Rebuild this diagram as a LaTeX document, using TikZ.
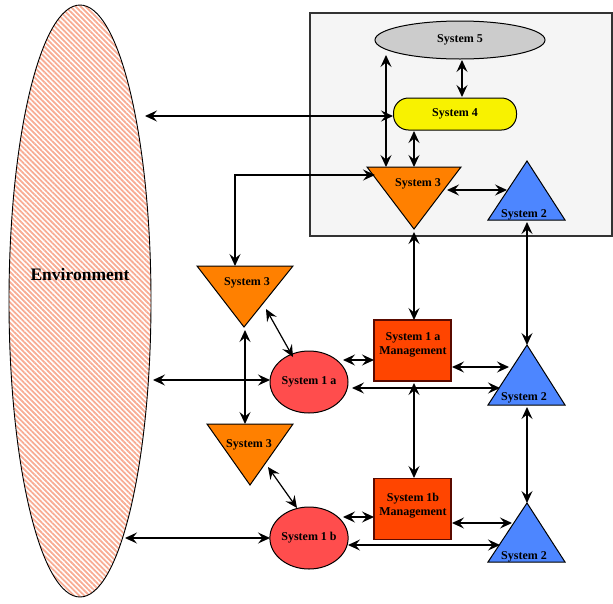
\documentclass[tikz,border=0pt]{standalone}
\usepackage{fontspec}
\setmainfont{Liberation Serif}
\usetikzlibrary{arrows.meta,patterns.meta,shapes.geometric}
\definecolor{envc}{HTML}{F8AC94}
\definecolor{boxc}{HTML}{F5F5F5}
\definecolor{grayc}{HTML}{CCCCCC}
\definecolor{yelc}{HTML}{F8F200}
\definecolor{orc}{HTML}{FF8000}
\definecolor{redc}{HTML}{FF4D4D}
\definecolor{mgc}{HTML}{FF4500}
\definecolor{mgb}{HTML}{5A0A00}
\definecolor{bluc}{HTML}{4D86FF}
\begin{document}
\begin{tikzpicture}[x=1pt,y=-1pt,line width=1.1pt,
  >={Stealth[length=12pt,width=11pt,inset=4.5pt]},
  lbl/.style={font=\bfseries\fontsize{12}{14}\selectfont,inner sep=0pt,align=center},
  conn/.style={<->,line width=1.2pt},
  tri/.style={draw,line width=1pt},
  mgmt/.style={draw=mgb,fill=mgc,line width=1.2pt,minimum width=77pt,minimum height=61pt,inner sep=0pt}]
\useasboundingbox (0,0) rectangle (613,603);
% environment
\node[ellipse,draw,line width=0.9pt,minimum width=142pt,minimum height=592pt,inner sep=0pt,
  pattern={Lines[angle=-45,distance=3.6pt,line width=1.8pt]},pattern color=envc] (env) at (80,301) {};
\node[font=\bfseries\fontsize{17.5}{20}\selectfont] (envt) at (80,275) {Environment};
% grey box
\draw[fill=boxc,draw=black!80,line width=1.2pt] (310,13) rectangle (612,236);
% system 5, 4
\node[ellipse,draw,fill=grayc,line width=1pt,minimum width=170pt,minimum height=38pt,inner sep=0pt,lbl] (s5) at (460,40) {System 5};
\node[draw,fill=yelc,rounded corners=15pt,line width=1pt,minimum width=123pt,minimum height=32pt,inner sep=0pt,lbl] (s4) at (455,114) {System 4};
% triangles
\draw[tri,fill=orc] (367,167) -- (461,167) -- (414,229) -- cycle;
\node[lbl] (s3t) at (418,184) {System 3};
\draw[tri,fill=bluc] (527,161) -- (565,220) -- (488,220) -- cycle;
\node[lbl] (s2t) at (524,215) {System 2};
\draw[tri,fill=orc] (197,266) -- (293,266) -- (244,327) -- cycle;
\node[lbl] (s3m) at (247,283) {System 3};
\draw[tri,fill=orc] (207,424) -- (293,424) -- (250,485) -- cycle;
\node[lbl] (s3l) at (249,445) {System 3};
\draw[tri,fill=bluc] (527,345) -- (565,405) -- (488,405) -- cycle;
\node[lbl] (s2m) at (524,398) {System 2};
\draw[tri,fill=bluc] (527,503) -- (565,562) -- (488,562) -- cycle;
\node[lbl] (s2l) at (524,557) {System 2};
% system 1
\node[ellipse,draw,fill=redc,line width=1pt,minimum width=78pt,minimum height=62pt,inner sep=0pt,lbl] (s1a) at (309,382) {System 1 a};
\node[ellipse,draw,fill=redc,line width=1pt,minimum width=78pt,minimum height=62pt,inner sep=0pt,lbl] (s1b) at (309,538) {System 1 b};
\node[mgmt] (m1a) at (412.5,350.5) {};
\node[lbl] (m1at) at (413,345) {System 1 a\\Management};
\node[mgmt] (m1b) at (412.5,509) {};
\node[lbl] (m1bt) at (413,506) {System 1b\\Management};
% connector end points
\coordinate (a1) at (145,116); \coordinate (a2) at (393,116);
\coordinate (b1) at (386,55);  \coordinate (b2) at (386,167);
\coordinate (c1) at (462,60);  \coordinate (c2) at (462,97);
\coordinate (d1) at (414,131); \coordinate (d2) at (414,167);
\coordinate (e1) at (375,175); \coordinate (e2) at (235,175); \coordinate (e3) at (235,266);
\coordinate (f1) at (447,190); \coordinate (f2) at (507,190);
\coordinate (g1) at (414,232); \coordinate (g2) at (414,320);
\coordinate (h1) at (527,222); \coordinate (h2) at (527,345);
\coordinate (i1) at (266,309); \coordinate (i2) at (293,357);
\coordinate (j1) at (245,330); \coordinate (j2) at (245,424);
\coordinate (k1) at (153,380); \coordinate (k2) at (270,380);
\coordinate (l1) at (343,360); \coordinate (l2) at (374,360);
\coordinate (n1) at (452,367); \coordinate (n2) at (509,367);
\coordinate (o1) at (352,388); \coordinate (o2) at (500,388);
\coordinate (p1) at (414,383); \coordinate (p2) at (414,478);
\coordinate (q1) at (125,538); \coordinate (q2) at (270,538);
\coordinate (r1) at (268,467); \coordinate (r2) at (297,508);
\coordinate (t1) at (343,517); \coordinate (t2) at (374,517);
\coordinate (u1) at (452,523); \coordinate (u2) at (512,523);
\coordinate (v1) at (348,545); \coordinate (v2) at (500,545);
\coordinate (w1) at (527,407); \coordinate (w2) at (527,503);
% connectors
\draw[conn] (a1) -- (a2);
\draw[conn] (b1) -- (b2);
\draw[conn] (c1) -- (c2);
\draw[conn] (d1) -- (d2);
\draw[conn] (e1) -- (e2) -- (e3);
\draw[conn] (f1) -- (f2);
\draw[conn] (g1) -- (g2);
\draw[conn] (h1) -- (h2);
\draw[conn] (i1) -- (i2);
\draw[conn] (j1) -- (j2);
\draw[conn] (k1) -- (k2);
\draw[conn] (l1) -- (l2);
\draw[conn] (n1) -- (n2);
\draw[conn] (o1) -- (o2);
\draw[conn] (p1) -- (p2);
\draw[conn] (q1) -- (q2);
\draw[conn] (r1) -- (r2);
\draw[conn] (t1) -- (t2);
\draw[conn] (u1) -- (u2);
\draw[conn] (v1) -- (v2);
\draw[conn] (w1) -- (w2);
\end{tikzpicture}
\end{document}
